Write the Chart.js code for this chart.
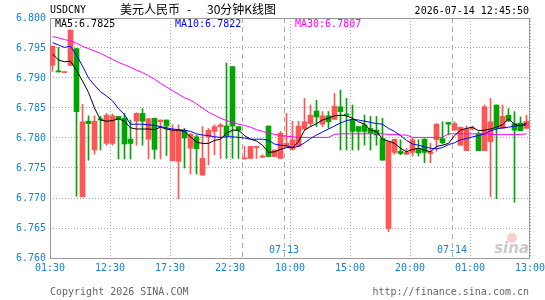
<!DOCTYPE html>
<html>
<head>
<meta charset="utf-8">
<script src="https://cdn.jsdelivr.net/npm/chart.js@4.4.1/dist/chart.umd.min.js"></script>
<style>
  html, body { margin: 0; padding: 0; background: #fff; }
  #wrap { position: absolute; left: 0; top: 0; width: 545px; height: 300px; }
</style>
</head>
<body>
<div id="wrap"><canvas id="kline"></canvas></div>
<script>
// 30 min candles, USDCNY
var openP = [6.7921,6.7912,6.7909,6.7921,6.7949,6.7702,6.7828,6.7780,6.7832,6.7791,
             6.7791,6.7836,6.7833,6.7798,6.7828,6.7841,6.7798,6.7833,6.7827,6.7830,
             6.7762,6.7761,6.7813,6.7783,6.7802,6.7738,6.7802,6.7811,6.7819,6.7820,
             6.7919,6.7819,6.7765,6.7766,6.7784,6.7768,6.7820,6.7769,6.7766,6.7786,
             6.7781,6.7786,6.7815,6.7824,6.7845,6.7823,6.7837,6.7831,6.7852,6.7840,
             6.7831,6.7819,6.7822,6.7816,6.7813,6.7799,6.7649,6.7776,6.7778,6.7773,
             6.7776,6.7781,6.7798,6.7774,6.7797,6.7799,6.7826,6.7813,6.7788,6.7779,
             6.7815,6.7807,6.7779,6.7794,6.7855,6.7816,6.7838,6.7824,6.7825,6.7816];
var highP = [6.7953,6.7951,6.7910,6.7980,6.7949,6.7856,6.7837,6.7837,6.7836,6.7841,
             6.7840,6.7836,6.7841,6.7830,6.7842,6.7849,6.7833,6.7833,6.7830,6.7830,
             6.7822,6.7822,6.7816,6.7808,6.7805,6.7819,6.7816,6.7822,6.7824,6.7925,
             6.7919,6.7819,6.7786,6.7786,6.7786,6.7772,6.7820,6.7780,6.7811,6.7841,
             6.7828,6.7828,6.7866,6.7855,6.7863,6.7844,6.7844,6.7874,6.7880,6.7866,
             6.7855,6.7819,6.7838,6.7836,6.7836,6.7833,6.7794,6.7798,6.7797,6.7783,
             6.7800,6.7797,6.7799,6.7791,6.7824,6.7827,6.7826,6.7827,6.7818,6.7820,
             6.7820,6.7810,6.7855,6.7866,6.7855,6.7855,6.7849,6.7844,6.7835,6.7838];
var lowP  = [6.7911,6.7910,6.7909,6.7921,6.7703,6.7702,6.7763,6.7773,6.7780,6.7788,
             6.7788,6.7765,6.7765,6.7765,6.7788,6.7788,6.7765,6.7765,6.7765,6.7771,
             6.7762,6.7699,6.7750,6.7740,6.7740,6.7738,6.7755,6.7772,6.7766,6.7766,
             6.7766,6.7766,6.7765,6.7766,6.7766,6.7767,6.7769,6.7769,6.7766,6.7786,
             6.7780,6.7786,6.7813,6.7819,6.7819,6.7819,6.7816,6.7831,6.7780,6.7780,
             6.7780,6.7780,6.7788,6.7780,6.7788,6.7763,6.7644,6.7773,6.7772,6.7772,
             6.7770,6.7770,6.7759,6.7759,6.7778,6.7790,6.7805,6.7813,6.7788,6.7779,
             6.7813,6.7779,6.7779,6.7702,6.7699,6.7816,6.7828,6.7693,6.7812,6.7816];
var closeP = [6.7953,6.7910,6.7910,6.7980,6.7844,6.7827,6.7824,6.7828,6.7830,6.7838,
              6.7837,6.7832,6.7790,6.7791,6.7841,6.7828,6.7832,6.7781,6.7830,6.7820,
              6.7813,6.7813,6.7800,6.7806,6.7782,6.7766,6.7813,6.7819,6.7822,6.7803,
              6.7820,6.7813,6.7767,6.7786,6.7786,6.7770,6.7769,6.7780,6.7808,6.7791,
              6.7797,6.7820,6.7827,6.7838,6.7835,6.7837,6.7827,6.7853,6.7844,6.7838,
              6.7811,6.7811,6.7811,6.7808,6.7805,6.7763,6.7794,6.7798,6.7774,6.7776,
              6.7797,6.7775,6.7776,6.7777,6.7823,6.7792,6.7823,6.7824,6.7818,6.7815,
              6.7817,6.7779,6.7852,6.7827,6.7816,6.7836,6.7828,6.7813,6.7812,6.7828];

var ma5 = [6.7940,6.7930,6.7927,6.7928,6.7913,6.7895,6.7876,6.7850,6.7830,6.7828,
           6.7829,6.7832,6.7828,6.7817,6.7815,6.7815,6.7815,6.7814,6.7818,6.7815,
           6.7813,6.7813,6.7811,6.7802,6.7793,6.7791,6.7791,6.7796,6.7798,6.7808,
           6.7813,6.7813,6.7804,6.7798,6.7795,6.7788,6.7776,6.7777,6.7781,6.7784,
           6.7784,6.7794,6.7813,6.7819,6.7824,6.7830,6.7833,6.7837,6.7838,6.7837,
           6.7833,6.7827,6.7823,6.7813,6.7811,6.7798,6.7795,6.7791,6.7783,6.7777,
           6.7781,6.7783,6.7780,6.7777,6.7786,6.7788,6.7791,6.7804,6.7813,6.7816,
           6.7818,6.7812,6.7813,6.7815,6.7818,6.7822,6.7832,6.7823,6.7820,6.7825];
var ma10 = [6.7959,6.7955,6.7951,6.7953,6.7938,6.7920,6.7900,6.7888,6.7877,6.7870,
            6.7862,6.7849,6.7839,6.7823,6.7823,6.7823,6.7822,6.7821,6.7819,6.7817,
            6.7815,6.7814,6.7813,6.7811,6.7807,6.7805,6.7804,6.7802,6.7801,6.7802,
            6.7802,6.7801,6.7800,6.7798,6.7798,6.7798,6.7796,6.7790,6.7788,6.7787,
            6.7784,6.7786,6.7792,6.7799,6.7805,6.7810,6.7815,6.7820,6.7825,6.7829,
            6.7831,6.7830,6.7828,6.7826,6.7824,6.7823,6.7816,6.7811,6.7804,6.7796,
            6.7790,6.7788,6.7785,6.7783,6.7782,6.7784,6.7789,6.7792,6.7797,6.7799,
            6.7802,6.7804,6.7807,6.7812,6.7815,6.7817,6.7818,6.7820,6.7821,6.7822];
var ma30 = [6.7969,6.7967,6.7964,6.7962,6.7958,6.7953,6.7949,6.7945,6.7941,6.7936,
            6.7931,6.7926,6.7922,6.7918,6.7913,6.7909,6.7904,6.7898,6.7891,6.7885,
            6.7879,6.7873,6.7867,6.7863,6.7857,6.7850,6.7843,6.7838,6.7833,6.7829,
            6.7826,6.7823,6.7821,6.7818,6.7814,6.7811,6.7808,6.7806,6.7804,6.7803,
            6.7802,6.7801,6.7801,6.7801,6.7801,6.7801,6.7801,6.7806,6.7807,6.7807,
            6.7807,6.7807,6.7807,6.7807,6.7807,6.7807,6.7806,6.7806,6.7805,6.7805,
            6.7801,6.7801,6.7801,6.7801,6.7801,6.7801,6.7807,6.7807,6.7807,6.7807,
            6.7807,6.7807,6.7807,6.7806,6.7806,6.7806,6.7806,6.7806,6.7806,6.7807];

var xLabels = ['01:30','12:30','17:30','22:30','10:00','15:00','20:00','01:00','13:00'];
var yTicks = [6.760, 6.765, 6.770, 6.775, 6.780, 6.785, 6.790, 6.795, 6.800];
// first candle of a new session; label shown at the dashed line
var dayStarts = [32, 39, 67];
var dayLabels = ['', '07-13', '07-14'];

var upColor = '#ff5555', downColor = '#00a600';
var tickColor = '#1a80d0', gridColor = '#a8a8a8', boxColor = '#999999';
var mono = '"DejaVu Sans Mono", "Liberation Mono", monospace';
var cjk = '"Noto Sans CJK SC", sans-serif';

var half = 2.5 / 6;          // candle centre sits 2.5px into its 6px slot
var xMin = -half, xMax = openP.length - half;

var candleColors = closeP.map(function (c, i) { return c >= openP[i] ? upColor : downColor; });
var wickData = openP.map(function (o, i) { return { x: i, y: [lowP[i], highP[i]] }; });
var bodyData = openP.map(function (o, i) { return { x: i, y: [o, closeP[i]] }; });
function toPts(arr) { return arr.map(function (v, i) { return { x: i, y: v }; }); }

var decor = {
  id: 'decor',
  beforeDatasetsDraw: function (chart) {
    var ctx = chart.ctx, a = chart.chartArea, xs = chart.scales.x;
    ctx.save();
    ctx.strokeStyle = '#aaaaaa';
    ctx.lineWidth = 1;
    ctx.setLineDash([5, 4]);
    dayStarts.forEach(function (d) {
      var px = Math.round(xs.getPixelForValue(d - half)) + 0.5;
      ctx.beginPath();
      ctx.moveTo(px, a.top);
      ctx.lineTo(px, a.bottom);
      ctx.stroke();
    });
    ctx.setLineDash([]);
    ctx.strokeStyle = boxColor;
    ctx.strokeRect(a.left + 0.5, a.top + 0.5, a.right - a.left - 1, a.bottom - a.top);

    // sina mark
    ctx.fillStyle = 'rgba(235,140,140,0.4)';
    ctx.beginPath(); ctx.arc(a.right - 18, a.bottom - 20, 5, 0, Math.PI * 2); ctx.fill();
    ctx.fillStyle = 'rgba(150,150,150,0.5)';
    ctx.font = 'italic bold 15px "DejaVu Sans"';
    ctx.textAlign = 'right';
    ctx.textBaseline = 'alphabetic';
    ctx.fillText('sina', a.right - 1, a.bottom - 5);
    ctx.restore();
  },
  afterDraw: function (chart) {
    var ctx = chart.ctx, a = chart.chartArea, xs = chart.scales.x;
    ctx.save();
    ctx.textBaseline = 'middle';
    ctx.font = '10px ' + mono;
    ctx.textAlign = 'left';
    ctx.fillStyle = '#000';
    ctx.fillText('USDCNY', a.left, 10);
    ctx.textAlign = 'right';
    ctx.fillText('2026-07-14 12:45:50', a.right - 1, 11.5);
    ctx.textAlign = 'left';
    ctx.font = '12px ' + cjk;
    ctx.fillText('美元人民币', 120, 9.5);
    ctx.fillText('-', 187, 9.5);
    ctx.fillText('30分钟K线图', 207, 9.5);

    ctx.font = '10px ' + mono;
    var last = ma5.length - 1;
    ctx.fillStyle = '#000000';
    ctx.fillText('MA5:' + ma5[last].toFixed(4), a.left + 5, 24);
    ctx.fillStyle = '#0000ff';
    ctx.fillText('MA10:' + ma10[last].toFixed(4), 175, 24);
    ctx.fillStyle = '#ff00ff';
    ctx.fillText('MA30:' + ma30[last].toFixed(4), 295, 24);

    ctx.fillStyle = tickColor;
    ctx.textAlign = 'center';
    dayStarts.forEach(function (d, k) {
      if (dayLabels[k]) ctx.fillText(dayLabels[k], xs.getPixelForValue(d - half), 250.5);
    });

    ctx.fillStyle = '#666666';
    ctx.textAlign = 'left';
    ctx.fillText('Copyright 2026 SINA.COM', a.left, 292.5);
    ctx.textAlign = 'right';
    ctx.fillText('http://finance.sina.com.cn', a.right - 1, 292.5);
    ctx.restore();
  }
};

new Chart(document.getElementById('kline'), {
  type: 'bar',
  data: {
    datasets: [
      { type: 'line', label: 'MA5', data: toPts(ma5), borderColor: '#000000', borderWidth: 1,
        pointRadius: 0, tension: 0, order: 0 },
      { type: 'line', label: 'MA10', data: toPts(ma10), borderColor: '#0000ff', borderWidth: 1,
        pointRadius: 0, tension: 0, order: 0 },
      { type: 'line', label: 'MA30', data: toPts(ma30), borderColor: '#ff00ff', borderWidth: 1,
        pointRadius: 0, tension: 0, order: 0 },
      { label: 'body', data: bodyData, backgroundColor: candleColors, borderWidth: 0,
        barThickness: 5, grouped: false, minBarLength: 1, order: 1 },
      { label: 'wick', data: wickData, backgroundColor: candleColors, borderWidth: 0,
        barThickness: 1, grouped: false, minBarLength: 1, order: 2 }
    ]
  },
  options: {
    responsive: true,
    maintainAspectRatio: false,
    animation: false,
    layout: { padding: { left: 0, right: 15, top: 18, bottom: 0 } },
    plugins: { legend: { display: false }, tooltip: { enabled: false } },
    scales: {
      x: {
        type: 'linear', min: xMin, max: xMax, offset: false,
        afterBuildTicks: function (s) {
          s.ticks = xLabels.map(function (t, k) { return { value: xMin + k * 10 }; });
        },
        afterFit: function (s) { s.height = 42; s.paddingLeft = 0; s.paddingRight = 0; },
        ticks: {
          autoSkip: false, maxRotation: 0, padding: 4, color: tickColor,
          font: { family: mono, size: 10 },
          callback: function (v, k) { return xLabels[k]; }
        },
        grid: { color: gridColor, drawTicks: false, offset: false },
        border: { display: false, dash: [1, 2] }
      },
      y: {
        min: 6.76, max: 6.8,
        afterBuildTicks: function (s) {
          s.ticks = yTicks.map(function (v) { return { value: v }; });
        },
        afterFit: function (s) { s.width = 50; s.paddingTop = 0; s.paddingBottom = 0; },
        ticks: {
          padding: 4, color: tickColor, font: { family: mono, size: 10 },
          callback: function (v) { return v.toFixed(3); }
        },
        grid: { color: gridColor, drawTicks: false },
        border: { display: false, dash: [1, 2] }
      }
    }
  },
  plugins: [decor]
});
</script>
</body>
</html>
